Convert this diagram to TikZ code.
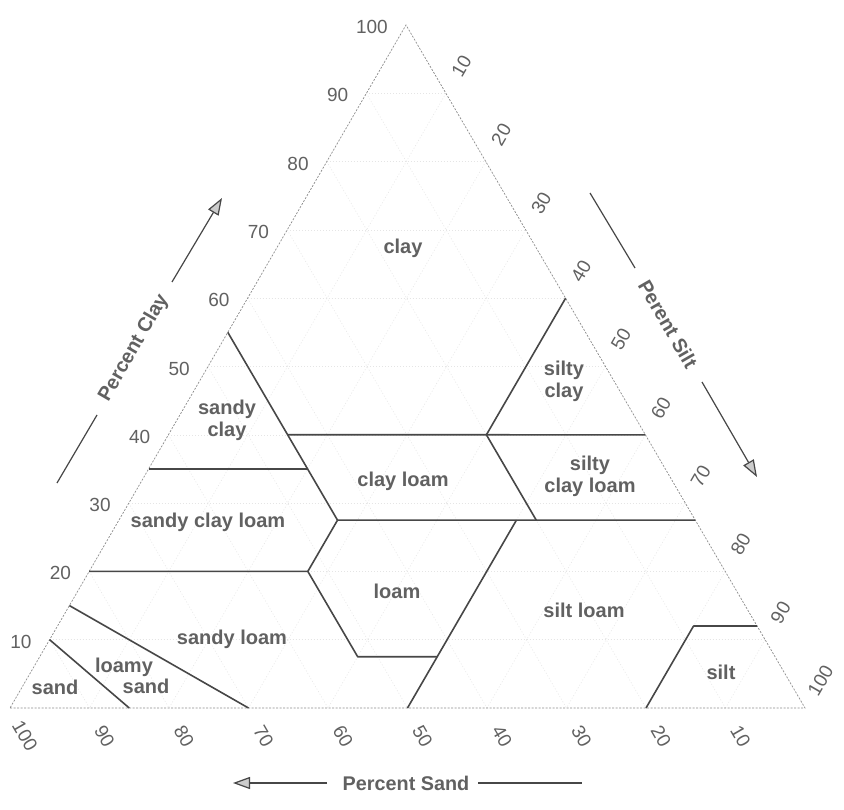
\documentclass[tikz,border=0pt]{standalone}
\usepackage{fontspec}
\setmainfont{Liberation Sans}
\usetikzlibrary{arrows.meta}
\definecolor{txtgray}{gray}{0.38}
\definecolor{lingray}{gray}{0.28}
\begin{document}
\begin{tikzpicture}[x=1pt,y=-1pt,
  soiltext/.style={text=txtgray, font=\fontsize{20}{22}\selectfont\bfseries, align=center, inner sep=0pt},
  ticklabel/.style={text=txtgray, font=\fontsize{19}{19}\selectfont, inner sep=0pt},
  axistitle/.style={text=txtgray, font=\fontsize{19.8}{21}\selectfont\bfseries, inner sep=0pt},
  boundary/.style={draw=lingray, line width=1.6pt, line join=round},
  triedge/.style={draw=black!45, line width=0.7pt, dash pattern=on 2pt off 1.5pt},
  gridline/.style={draw=black!10, line width=0.5pt, dash pattern=on 1pt off 2pt},
  axisline/.style={draw=lingray, line width=1.2pt},
  axisarrow/.style={axisline, -{Triangle[length=17pt,width=12pt,fill=black!20]}}
]
\useasboundingbox[fill=white] (0,0) rectangle (844,810);

% vertices
\coordinate (T) at (406,25);
\coordinate (BL) at (10,708);
\coordinate (BR) at (805,708);

% faint grid
\foreach \i in {10,20,...,90}{
  \pgfmathsetmacro\a{\i/100}
  \pgfmathsetmacro\b{1-\a}
  \draw[gridline] (barycentric cs:T=\a,BL=\b) -- (barycentric cs:T=\a,BR=\b);
  \draw[gridline] (barycentric cs:BL=\a,T=\b) -- (barycentric cs:BL=\a,BR=\b);
  \draw[gridline] (barycentric cs:BR=\a,T=\b) -- (barycentric cs:BR=\a,BL=\b);
}

% triangle outline
\draw[triedge] (BL) -- (BR) -- (T) -- cycle;

% boundary points (T=clay, BL=sand, BR=silt), as fractions
\coordinate (p1) at (barycentric cs:T=0,BL=0.85,BR=0.15);
\coordinate (p2) at (barycentric cs:T=0.10,BL=0.90,BR=0);
\coordinate (p3) at (barycentric cs:T=0,BL=0.70,BR=0.30);
\coordinate (p4) at (barycentric cs:T=0.15,BL=0.85,BR=0);
\coordinate (p5) at (barycentric cs:T=0.20,BL=0.80,BR=0);
\coordinate (p6) at (barycentric cs:T=0.20,BL=0.525,BR=0.275);
\coordinate (p7) at (barycentric cs:T=0.075,BL=0.525,BR=0.40);
\coordinate (p8) at (barycentric cs:T=0.075,BL=0.425,BR=0.50);
\coordinate (p9) at (barycentric cs:T=0,BL=0.50,BR=0.50);
\coordinate (p10) at (barycentric cs:T=0.275,BL=0.225,BR=0.50);
\coordinate (p11) at (barycentric cs:T=0.275,BL=0.45,BR=0.275);
\coordinate (p12) at (barycentric cs:T=0.275,BL=0,BR=0.725);
\coordinate (p13) at (barycentric cs:T=0.35,BL=0.65,BR=0);
\coordinate (p14) at (barycentric cs:T=0.35,BL=0.45,BR=0.20);
\coordinate (p15) at (barycentric cs:T=0.55,BL=0.45,BR=0);
\coordinate (p16) at (barycentric cs:T=0.40,BL=0.45,BR=0.15);
\coordinate (p17) at (barycentric cs:T=0.40,BL=0,BR=0.60);
\coordinate (p18) at (barycentric cs:T=0.40,BL=0.20,BR=0.40);
\coordinate (p19) at (barycentric cs:T=0.60,BL=0,BR=0.40);
\coordinate (p20) at (barycentric cs:T=0.275,BL=0.20,BR=0.525);
\coordinate (p21) at (barycentric cs:T=0.12,BL=0.08,BR=0.80);
\coordinate (p22) at (barycentric cs:T=0.12,BL=0,BR=0.88);
\coordinate (p23) at (barycentric cs:T=0,BL=0.20,BR=0.80);

% class boundaries
\draw[boundary] (p1) -- (p2);
\draw[boundary] (p3) -- (p4);
\draw[boundary] (p5) -- (p6) -- (p7) -- (p8);
\draw[boundary] (p9) -- (p10);
\draw[boundary] (p6) -- (p11);
\draw[boundary] (p11) -- (p12);
\draw[boundary] (p13) -- (p14);
\draw[boundary] (p15) -- (p11);
\draw[boundary] (p16) -- (p17);
\draw[boundary] (p18) -- (p19);
\draw[boundary] (p18) -- (p20);
\draw[boundary] (p22) -- (p21) -- (p23);

% tick labels
\foreach \i in {10,20,...,100}{
  \pgfmathsetmacro\a{\i/100}
  \pgfmathsetmacro\b{1-\a}
  \node[ticklabel, anchor=east, xshift=-18pt, yshift=-2pt] (cl\i) at (barycentric cs:T=\a,BL=\b) {\i};
  \node[ticklabel, xshift=15.5pt, yshift=27pt, rotate=60] (si\i) at (barycentric cs:T=\b,BR=\a) {\i};
  \node[ticklabel, xshift=15pt, yshift=-28pt, rotate=-60] (sa\i) at (barycentric cs:BL=\a,BR=\b) {\i};
}

% axis titles
\node[axistitle, rotate=60] (ctitle) at (134,348) {Percent Clay};
\coordinate (ca1) at (57,483);
\coordinate (ca2) at (97,415);
\coordinate (ca3) at (172,282);
\coordinate (ca4) at (222,198);
\draw[axisline] (ca1) -- (ca2);
\draw[axisarrow] (ca3) -- (ca4);

\node[axistitle, rotate=-60] (stitle) at (668,324) {Perent Silt};
\coordinate (sa1) at (590,193);
\coordinate (sa2) at (635,268);
\coordinate (sa3) at (702,382);
\coordinate (sa4) at (757,477);
\draw[axisline] (sa1) -- (sa2);
\draw[axisarrow] (sa3) -- (sa4);

\node[axistitle] (dtitle) at (406,783) {Percent Sand};
\coordinate (da1) at (327,783);
\coordinate (da2) at (233,783);
\coordinate (da3) at (478,783);
\coordinate (da4) at (582,783);
\draw[axisarrow] (da1) -- (da2);
\draw[axisline] (da3) -- (da4);

% region labels
\node[soiltext] (rclay) at (403,248) {clay};
\node[soiltext] (rsiltyclay) at (564,381) {silty\\clay};
\node[soiltext] (rsandyclay) at (227,420) {sandy\\clay};
\node[soiltext] (rclayloam) at (403,481) {clay loam};
\node[soiltext] (rsiltyclayloam) at (590,476) {silty\\clay loam};
\node[soiltext] (rsandyclayloam) at (208,522) {sandy clay loam};
\node[soiltext] (rloam) at (397,591) {loam};
\node[soiltext] (rsiltloam) at (584,610) {silt loam};
\node[soiltext] (rsandyloam) at (232,639) {sandy loam};
\node[soiltext] (rloamy) at (124,667) {loamy};
\node[soiltext] (rloamysand) at (146,686) {sand};
\node[soiltext] (rsand) at (55,687) {sand};
\node[soiltext] (rsilt) at (721,672) {silt};
\end{tikzpicture}
\end{document}
